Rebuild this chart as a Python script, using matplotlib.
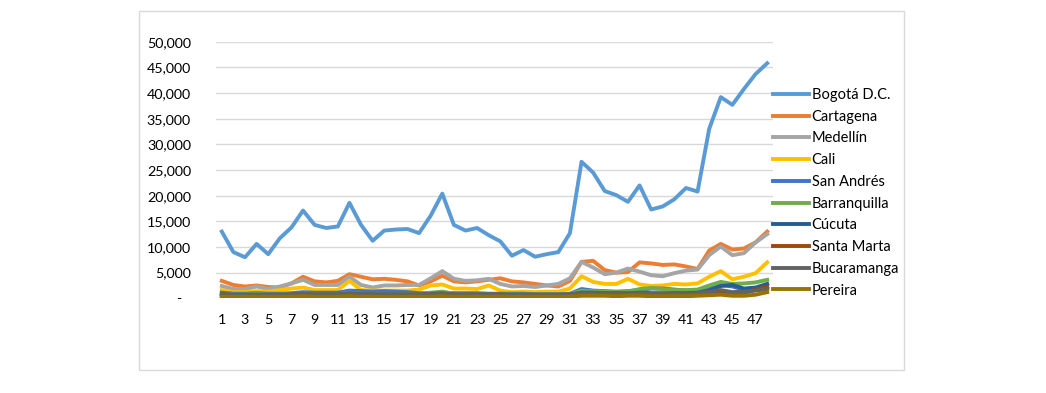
import matplotlib.pyplot as plt
from matplotlib.patches import Rectangle
from matplotlib.ticker import FuncFormatter

weeks = list(range(1, 49))

bogota = [13000, 9000, 8000, 10600, 8600, 11700, 13800, 17100, 14300, 13700, 14000, 18600,
          14300, 11200, 13200, 13400, 13500, 12700, 16100, 20400, 14300, 13200, 13700, 12300,
          11100, 8300, 9400, 8100, 8600, 9000, 12700, 26600, 24500, 20900, 20100, 18800,
          22000, 17300, 17900, 19300, 21500, 20800, 33000, 39200, 37700, 40800, 43700, 45800]
cartagena = [3400, 2600, 2300, 2500, 2200, 2100, 2900, 4200, 3300, 3100, 3400, 4700,
             4200, 3700, 3800, 3600, 3300, 2500, 3300, 4400, 3300, 3100, 3300, 3600,
             3900, 3300, 3100, 2800, 2500, 2300, 3400, 7100, 7300, 5500, 5000, 5100,
             7000, 6800, 6500, 6600, 6200, 5700, 9300, 10600, 9500, 9700, 10900, 13000]
medellin = [2400, 1800, 1800, 2300, 1800, 2300, 2900, 3600, 2600, 2600, 2600, 4200,
            2600, 2100, 2500, 2500, 2600, 2600, 3900, 5300, 3800, 3400, 3500, 3800,
            2800, 2300, 2400, 2200, 2500, 2800, 3900, 7100, 6000, 4700, 5000, 5800,
            5200, 4500, 4300, 4900, 5400, 5600, 8400, 10100, 8400, 8800, 10900, 12500]
cali = [1600, 1200, 1200, 1400, 1300, 1600, 1900, 2100, 1600, 1600, 1600, 3400,
        1600, 1500, 1500, 1500, 1500, 1700, 2500, 2700, 1900, 1900, 1800, 2500,
        1500, 1200, 1300, 1200, 1300, 1300, 1900, 4300, 3200, 2800, 2800, 3800,
        2700, 2400, 2500, 2800, 2700, 2900, 4200, 5300, 3700, 4200, 4900, 7000]
san_andres = [1100, 900, 900, 1000, 900, 900, 1000, 1200, 1100, 1100, 1100, 1500,
              1400, 1300, 1400, 1300, 1200, 1000, 1000, 1100, 1000, 1000, 1000, 900,
              900, 900, 900, 800, 800, 800, 900, 1800, 1500, 1400, 1300, 1400,
              1600, 1900, 1900, 1700, 1500, 1400, 2000, 2600, 2300, 1700, 2000, 1800]
barranquilla = [800, 700, 700, 800, 700, 700, 800, 900, 800, 800, 800, 1100,
                900, 800, 800, 800, 800, 900, 1100, 1300, 900, 800, 800, 800,
                800, 700, 700, 700, 700, 700, 800, 1500, 1400, 1300, 1200, 1300,
                1800, 2000, 1800, 1600, 1600, 1700, 2500, 3200, 2800, 2900, 3100, 3600]
cucuta = [700, 600, 600, 600, 600, 600, 700, 800, 700, 700, 700, 900,
          800, 700, 700, 700, 700, 700, 700, 800, 700, 700, 700, 700,
          700, 600, 600, 600, 600, 600, 700, 1100, 1100, 1000, 1000, 1000,
          1100, 1000, 1000, 1000, 1000, 1100, 1500, 2400, 2600, 1900, 2100, 2800]
santa_marta = [500, 400, 400, 400, 400, 400, 500, 500, 500, 500, 500, 600,
               500, 500, 500, 500, 500, 500, 500, 600, 500, 500, 500, 500,
               500, 400, 400, 400, 400, 400, 500, 700, 700, 700, 600, 700,
               700, 600, 600, 700, 600, 700, 900, 1100, 900, 1000, 1700, 2200]
bucaramanga = [900, 700, 700, 700, 700, 700, 800, 900, 800, 800, 800, 1000,
               900, 800, 800, 800, 800, 800, 900, 1000, 800, 800, 800, 800,
               800, 700, 700, 700, 700, 700, 800, 1000, 1000, 900, 900, 1000,
               1000, 900, 900, 900, 900, 1000, 1300, 1600, 1200, 1300, 1500, 1800]
pereira = [300, 300, 300, 300, 300, 300, 300, 400, 300, 300, 300, 400,
           300, 300, 300, 300, 300, 300, 300, 400, 300, 300, 300, 300,
           300, 300, 300, 300, 300, 300, 300, 500, 500, 500, 400, 500,
           500, 400, 400, 400, 400, 500, 600, 700, 500, 500, 700, 1200]

series = [("Bogotá D.C.", bogota, "#5B9BD5"),
          ("Cartagena", cartagena, "#ED7D31"),
          ("Medellín", medellin, "#A5A5A5"),
          ("Cali", cali, "#FFC000"),
          ("San Andrés", san_andres, "#4472C4"),
          ("Barranquilla", barranquilla, "#70AD47"),
          ("Cúcuta", cucuta, "#255E91"),
          ("Santa Marta", santa_marta, "#9E480E"),
          ("Bucaramanga", bucaramanga, "#636363"),
          ("Pereira", pereira, "#997300")]

W, H = 1046, 393
plt.rcParams['font.family'] = ['Lato', 'DejaVu Sans']
fig = plt.figure(figsize=(W / 100, H / 100), dpi=100)

# chart border
fig.patches.append(Rectangle((139 / W, 1 - 370 / H), (904 - 139) / W, (370 - 11) / H,
                             transform=fig.transFigure, fill=False,
                             edgecolor="#D9D9D9", linewidth=1))

ax = fig.add_axes([216 / W, 1 - 298.3 / H, (773 - 216) / W, (298.3 - 41.7) / H])

for name, vals, color in series:
    ax.plot(weeks, vals, color=color, linewidth=2.8, label=name, solid_joinstyle="round")

ax.set_xlim(0.5, 48.5)
ax.set_ylim(0, 50000)
ax.set_xticks(weeks[::2])
ax.set_yticks(range(0, 50001, 5000))
ax.yaxis.set_major_formatter(FuncFormatter(lambda v, p: "-" if v == 0 else f"{int(v):,}"))
ax.grid(axis="y", color="#D9D9D9", linewidth=1)
ax.set_axisbelow(True)
for s in ax.spines.values():
    s.set_visible(False)
ax.tick_params(axis="both", length=0, labelsize=10.3, colors="#000000")
ax.tick_params(axis="x", pad=11)
ax.tick_params(axis="y", pad=18)
for lbl in ax.get_yticklabels():
    if lbl.get_text() == "-":
        lbl.set_x(-0.018)

ax.legend(loc="upper left", bbox_to_anchor=(773 / W, 1 - 88 / H), bbox_transform=fig.transFigure,
          frameon=False, fontsize=10.5, handlelength=2.5, handletextpad=0.15,
          labelspacing=0.53, borderaxespad=0, borderpad=0)

fig.savefig("out.png", dpi=100)
